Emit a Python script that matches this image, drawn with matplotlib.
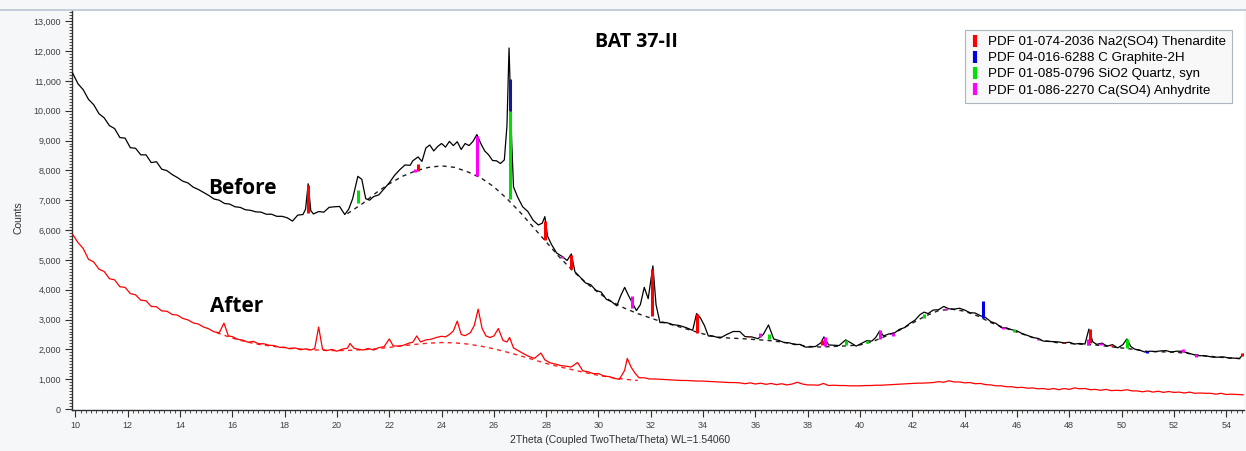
import matplotlib
matplotlib.use("Agg")
import matplotlib.pyplot as plt
from matplotlib.ticker import MultipleLocator, FuncFormatter
from matplotlib.lines import Line2D

# ---------------- data ----------------
before_2theta = [
    9.9, 10.1, 10.3, 10.5, 10.7, 10.9, 11.1, 11.3, 11.5, 11.7,
    11.9, 12.1, 12.3, 12.5, 12.7, 12.9, 13.1, 13.3, 13.5, 13.7,
    13.9, 14.1, 14.3, 14.5, 14.7, 14.9, 15.1, 15.3, 15.5, 15.7,
    15.9, 16.1, 16.3, 16.5, 16.7, 16.9, 17.1, 17.3, 17.5, 17.7,
    17.9, 18.1, 18.3, 18.5, 18.7, 18.8, 18.9, 19.0, 19.1, 19.3,
    19.5, 19.7, 19.9, 20.1, 20.3, 20.45, 20.6, 20.8, 20.95, 21.1,
    21.25, 21.4, 21.6, 21.8, 22.0, 22.2, 22.4, 22.6, 22.8, 22.9,
    23.1, 23.25, 23.4, 23.55, 23.7, 23.85, 24.0, 24.15, 24.3, 24.45,
    24.6, 24.75, 24.9, 25.05, 25.2, 25.35, 25.5, 25.65, 25.8, 25.95,
    26.1, 26.25, 26.4, 26.5, 26.58, 26.68, 26.75, 26.9, 27.1, 27.3,
    27.5, 27.7, 27.85, 27.95, 28.05, 28.2, 28.4, 28.6, 28.8, 28.96,
    29.1, 29.3, 29.5, 29.7, 29.9, 30.1, 30.3, 30.5, 30.7, 30.85,
    31.0, 31.15, 31.3, 31.45, 31.6, 31.75, 31.9, 32.08, 32.2, 32.35,
    32.6, 32.85, 33.1, 33.35, 33.6, 33.75, 33.9, 34.05, 34.2, 34.4,
    34.65, 34.9, 35.15, 35.4, 35.6, 35.85, 36.1, 36.3, 36.5, 36.7,
    36.9, 37.1, 37.3, 37.5, 37.7, 37.9, 38.1, 38.3, 38.5, 38.62,
    38.8, 39.0, 39.2, 39.45, 39.65, 39.85, 40.05, 40.25, 40.45, 40.6,
    40.75, 40.9, 41.1, 41.3, 41.5, 41.7, 41.9, 42.1, 42.3, 42.45,
    42.6, 42.8, 43.0, 43.2, 43.4, 43.6, 43.8, 44.0, 44.2, 44.4,
    44.6, 44.8, 45.0, 45.2, 45.4, 45.6, 45.8, 46.0, 46.2, 46.4,
    46.6, 46.8, 47.0, 47.2, 47.4, 47.6, 47.8, 48.0, 48.2, 48.4,
    48.6, 48.75, 48.9, 49.05, 49.25, 49.45, 49.65, 49.85, 50.05, 50.2,
    50.35, 50.5, 50.7, 50.9, 51.1, 51.3, 51.5, 51.7, 51.9, 52.1,
    52.3, 52.5, 52.7, 52.9, 53.1, 53.3, 53.5, 53.7, 53.9, 54.1,
    54.3, 54.5, 54.65,
]
before_counts = [
    11250, 10900, 10700, 10380, 10200, 9900, 9760, 9500, 9400, 9100,
    9080, 8760, 8740, 8520, 8520, 8260, 8290, 8040, 7990, 7860,
    7760, 7640, 7580, 7440, 7360, 7260, 7160, 7040, 7000, 6890,
    6870, 6780, 6760, 6680, 6660, 6610, 6600, 6530, 6530, 6460,
    6460, 6410, 6300, 6500, 6520, 6700, 7550, 6650, 6540, 6620,
    6600, 6760, 6780, 6790, 6520, 6700, 7050, 7800, 7700, 7050,
    7000, 7120, 7180, 7380, 7580, 7830, 8020, 8180, 8170, 8320,
    8450, 8300, 8750, 8850, 8650, 8800, 8900, 8780, 8970, 8830,
    8960, 8700, 8900, 8830, 8970, 9200, 8900, 8650, 8520, 8330,
    8320, 8230, 8350, 9500, 12100, 9000, 7450, 7120, 6780, 6620,
    6330, 6170, 6230, 6450, 5800, 5520, 5230, 5120, 4980, 5200,
    4600, 4420, 4230, 4170, 3980, 3920, 3680, 3600, 3460, 3800,
    4080, 3800, 3550, 3300, 3500, 4080, 3700, 4800, 3500, 2900,
    2900, 2830, 2800, 2730, 2640, 3200, 3050, 2800, 2450, 2440,
    2380, 2500, 2600, 2600, 2430, 2420, 2360, 2500, 2820, 2350,
    2300, 2230, 2220, 2160, 2170, 2080, 2080, 2100, 2220, 2420,
    2150, 2140, 2130, 2320, 2220, 2110, 2200, 2290, 2280, 2400,
    2620, 2450, 2520, 2540, 2670, 2730, 2870, 2980, 3170, 3250,
    3200, 3320, 3330, 3440, 3360, 3350, 3380, 3320, 3230, 3220,
    3130, 3070, 2930, 2870, 2730, 2720, 2660, 2620, 2530, 2470,
    2400, 2370, 2280, 2270, 2260, 2250, 2220, 2240, 2180, 2200,
    2180, 2680, 2250, 2170, 2210, 2110, 2160, 2050, 2160, 2350,
    2100, 2010, 1970, 1910, 1940, 1930, 1950, 1960, 1910, 1940,
    1940, 1890, 1840, 1790, 1790, 1770, 1740, 1740, 1750, 1710,
    1710, 1690, 1840,
]

after_2theta = [
    9.9, 10.1, 10.3, 10.5, 10.7, 10.9, 11.1, 11.3, 11.5, 11.7,
    11.9, 12.1, 12.3, 12.5, 12.7, 12.9, 13.1, 13.3, 13.5, 13.7,
    13.9, 14.1, 14.3, 14.5, 14.7, 14.9, 15.1, 15.3, 15.5, 15.68,
    15.85, 16.0, 16.2, 16.4, 16.6, 16.8, 17.0, 17.2, 17.4, 17.6,
    17.8, 18.0, 18.2, 18.4, 18.6, 18.8, 19.0, 19.15, 19.3, 19.45,
    19.6, 19.8, 20.0, 20.2, 20.4, 20.5, 20.65, 20.8, 21.0, 21.2,
    21.4, 21.6, 21.8, 22.0, 22.15, 22.35, 22.55, 22.75, 22.9, 23.05,
    23.2, 23.4, 23.6, 23.8, 24.0, 24.15, 24.3, 24.45, 24.6, 24.75,
    24.9, 25.1, 25.25, 25.4, 25.55, 25.7, 25.85, 26.0, 26.17, 26.35,
    26.5, 26.6, 26.75, 26.95, 27.15, 27.35, 27.55, 27.8, 27.95, 28.15,
    28.35, 28.55, 28.75, 28.95, 29.2, 29.4, 29.6, 29.8, 30.0, 30.2,
    30.4, 30.6, 30.8, 31.0, 31.1, 31.25, 31.4, 31.55, 31.75, 31.95,
    32.15, 32.35, 32.55, 32.75, 32.95, 33.15, 33.35, 33.55, 33.75, 33.95,
    34.15, 34.35, 34.55, 34.75, 35.0, 35.2, 35.4, 35.6, 35.8, 36.0,
    36.2, 36.4, 36.6, 36.8, 37.0, 37.2, 37.4, 37.6, 37.8, 38.0,
    38.2, 38.4, 38.6, 38.8, 39.0, 39.2, 39.4, 39.6, 39.8, 40.0,
    40.2, 40.4, 40.6, 40.8, 41.0, 41.2, 41.4, 41.6, 41.8, 42.0,
    42.2, 42.4, 42.6, 42.8, 43.0, 43.2, 43.4, 43.6, 43.8, 44.0,
    44.2, 44.4, 44.6, 44.8, 45.0, 45.2, 45.4, 45.6, 45.8, 46.0,
    46.2, 46.4, 46.6, 46.8, 47.0, 47.2, 47.4, 47.6, 47.8, 48.0,
    48.2, 48.4, 48.6, 48.8, 49.0, 49.2, 49.4, 49.6, 49.8, 50.0,
    50.2, 50.4, 50.6, 50.8, 51.0, 51.2, 51.4, 51.6, 51.8, 52.0,
    52.2, 52.4, 52.6, 52.8, 53.0, 53.2, 53.4, 53.6, 53.8, 54.0,
    54.2, 54.4, 54.65,
]
after_counts = [
    5850, 5580, 5380, 5020, 4930, 4690, 4610, 4370, 4330, 4100,
    4080, 3870, 3830, 3650, 3630, 3440, 3430, 3290, 3280, 3170,
    3150, 3040, 2990, 2890, 2850, 2750, 2690, 2590, 2560, 2880,
    2450, 2430, 2340, 2310, 2240, 2270, 2190, 2190, 2140, 2130,
    2070, 2070, 2020, 2050, 1990, 2020, 1980, 2030, 2750, 2000,
    1960, 2000, 1940, 2010, 2040, 2200, 2040, 2010, 1980, 2030,
    1980, 2060, 2090, 2350, 2120, 2110, 2140, 2210, 2240, 2450,
    2250, 2320, 2340, 2400, 2440, 2420, 2500, 2620, 2950, 2500,
    2460, 2560, 2800, 3350, 2700, 2450, 2400, 2450, 2700, 2300,
    2250, 2400, 2050, 1950, 1850, 1760, 1700, 1880, 1650, 1550,
    1510, 1460, 1440, 1410, 1560, 1280, 1250, 1190, 1190, 1110,
    1090, 1030, 1000, 1300, 1700, 1400, 1200, 1050, 1050, 1010,
    1010, 1000, 990, 980, 970, 960, 960, 950, 940, 940,
    930, 920, 910, 900, 890, 890, 880, 850, 880, 840,
    870, 830, 860, 820, 850, 810, 840, 900, 840, 810,
    810, 800, 860, 790, 800, 790, 790, 780, 780, 780,
    790, 790, 800, 800, 810, 820, 830, 840, 850, 860,
    870, 870, 880, 890, 920, 900, 950, 910, 910, 880,
    890, 850, 860, 820, 810, 780, 780, 750, 750, 720,
    730, 700, 710, 680, 690, 660, 690, 650, 690, 660,
    710, 680, 690, 650, 660, 630, 660, 620, 630, 620,
    650, 610, 610, 580, 610, 570, 600, 560, 590, 560,
    570, 540, 570, 530, 540, 530, 530, 500, 530, 490,
    500, 490, 480,
]

before_bg_2theta = [20.4, 21.0, 21.5, 22.0, 22.5, 23.0, 23.5, 24.0, 24.5, 25.0,
                    25.5, 26.0, 26.5, 27.0, 27.5, 28.0, 28.5, 29.0, 29.5, 30.0,
                    30.5, 31.0, 31.5, 32.0, 32.5, 33.0, 33.5, 34.0, 34.5, 35.0,
                    35.5, 36.0, 36.5, 37.0, 37.5, 38.0, 38.5, 39.0, 39.5, 40.0,
                    40.5, 41.0, 41.5, 42.0, 42.5, 43.0, 43.5, 44.0, 44.5, 45.0,
                    45.5, 46.0, 46.5, 47.0, 47.5, 48.0, 48.5, 49.0, 49.5, 50.0,
                    50.5, 51.0, 51.5, 52.0, 52.5, 53.0, 53.5, 54.0, 54.65]
before_bg_counts = [6550, 6900, 7250, 7550, 7800, 7980, 8100, 8150, 8100, 7950,
                    7750, 7450, 7050, 6600, 6100, 5600, 5100, 4650, 4250, 3900,
                    3600, 3380, 3200, 3050, 2900, 2780, 2650, 2520, 2420, 2380,
                    2360, 2330, 2300, 2250, 2180, 2100, 2080, 2100, 2120, 2150,
                    2270, 2450, 2640, 2880, 3120, 3300, 3350, 3280, 3120, 2900,
                    2730, 2580, 2430, 2300, 2230, 2200, 2170, 2150, 2100, 2050,
                    2000, 1930, 1920, 1910, 1870, 1800, 1760, 1720, 1690]

after_bg_2theta = [15.4, 16.0, 16.5, 17.0, 17.5, 18.0, 18.5, 19.0, 19.5, 20.0,
                   20.5, 21.0, 21.5, 22.0, 22.5, 23.0, 23.5, 24.0, 24.5, 25.0,
                   25.5, 26.0, 26.5, 27.0, 27.5, 28.0, 28.5, 29.0, 29.5, 30.0,
                   30.5, 31.0, 31.5]
after_bg_counts = [2560, 2380, 2260, 2170, 2110, 2060, 2020, 1990, 1970, 1960,
                   1970, 1990, 2020, 2070, 2120, 2170, 2210, 2230, 2220, 2180,
                   2110, 2020, 1910, 1790, 1660, 1530, 1420, 1320, 1220, 1130,
                   1060, 1000, 960]

# reference-pattern sticks: position, top, bottom, phase index
stick_pos = [18.89, 20.8, 23.0, 23.1, 25.35, 26.62, 26.62, 27.95, 28.6, 28.96,
             31.3, 32.05, 33.78, 35.7, 36.17, 36.5, 38.55, 38.65, 39.45, 40.25,
             40.75, 41.25, 42.45, 43.3, 44.72, 45.48, 45.9, 46.8, 47.8, 48.7,
             48.78, 49.2, 49.6, 50.2, 50.97, 52.35, 52.85, 54.62]
stick_top = [7500, 7350, 8050, 8200, 9150, 10000, 11050, 6300, 5130, 5180,
             3800, 4680, 3180, 2450, 2550, 2520, 2300, 2420, 2320, 2280,
             2650, 2560, 3200, 3400, 3620, 2750, 2700, 2350, 2250, 2350,
             2680, 2200, 2150, 2350, 1950, 2000, 1850, 1880]
stick_bottom = [6560, 6920, 7950, 7970, 7800, 7050, 10000, 5680, 5050, 4680,
                3400, 3120, 2560, 2400, 2400, 2340, 2150, 2120, 2150, 2200,
                2350, 2450, 3050, 3330, 3060, 2680, 2600, 2300, 2200, 2150,
                2230, 2150, 2100, 2050, 1880, 1900, 1760, 1780]
stick_phase = [0, 2, 3, 0, 3, 2, 1, 0, 3, 0,
               3, 0, 0, 0, 3, 2, 0, 3, 2, 2,
               3, 3, 2, 3, 1, 3, 2, 3, 0, 3,
               0, 3, 0, 2, 1, 3, 3, 0]

phase_labels = [
    "PDF 01-074-2036 Na2(SO4) Thenardite",
    "PDF 04-016-6288 C Graphite-2H",
    "PDF 01-085-0796 SiO2 Quartz, syn",
    "PDF 01-086-2270 Ca(SO4) Anhydrite",
]
phase_colors = ["#ff0000", "#0000e0", "#00e000", "#ff00ff"]

title_text = "BAT 37-II"
curve_labels = ["Before", "After"]
x_label = "2Theta (Coupled TwoTheta/Theta) WL=1.54060"
y_label = "Counts"

# ---------------- figure ----------------
W, H = 1246, 451
fig = plt.figure(figsize=(W / 100, H / 100), dpi=100, facecolor="#f5f7f9")
ax_l, ax_r, ax_t, ax_b = 72, 1244, 11, 410
ax = fig.add_axes([ax_l / W, 1 - ax_b / H, (ax_r - ax_l) / W, (ax_b - ax_t) / H])
ax.set_facecolor("white")

ax.plot(before_bg_2theta, before_bg_counts, color="#202020", lw=1.0,
        linestyle=(0, (3, 3)), zorder=2)
ax.plot(after_bg_2theta, after_bg_counts, color="#ff2020", lw=1.0,
        linestyle=(0, (3, 3)), zorder=2)
ax.plot(before_2theta, before_counts, color="black", lw=0.9, zorder=3)
ax.plot(after_2theta, after_counts, color="#ff0000", lw=0.9, zorder=3)

for p, t, b, ph in zip(stick_pos, stick_top, stick_bottom, stick_phase):
    col = phase_colors[ph]
    if ph == 1 and t > 10000:
        col = "#101a90"
    ax.plot([p, p], [b, t], color=col, lw=2.2, solid_capstyle="butt", zorder=4)

ax.set_xlim(9.87, 54.68)
ax.set_ylim(-30, 13340)

for s in ["top", "right"]:
    ax.spines[s].set_visible(False)
for s in ["left", "bottom"]:
    ax.spines[s].set_color("#303030")
    ax.spines[s].set_linewidth(1.0)

ax.xaxis.set_major_locator(MultipleLocator(2))
ax.xaxis.set_minor_locator(MultipleLocator(0.2))
ax.yaxis.set_major_locator(MultipleLocator(1000))
ax.yaxis.set_minor_locator(MultipleLocator(100))
ax.yaxis.set_major_formatter(FuncFormatter(lambda v, p: f"{int(v):,}"))
ax.tick_params(axis="both", which="major", length=5, width=0.8, color="#303030",
               labelsize=6.5, labelcolor="#404040", pad=3)
ax.tick_params(axis="both", which="minor", length=2.5, width=0.6, color="#303030")
for lab in ax.get_xticklabels() + ax.get_yticklabels():
    lab.set_family("Liberation Sans")

ax.text((636 - ax_l) / (ax_r - ax_l), (ax_b - 42) / (ax_b - ax_t), title_text,
        transform=ax.transAxes, ha="center", va="center",
        fontsize=14, fontweight="bold", family="Open Sans")
ax.text(16.39, 7380, curve_labels[0], ha="center", va="center",
        fontsize=15, fontweight="bold", family="Open Sans")
ax.text(16.16, 3450, curve_labels[1], ha="center", va="center",
        fontsize=15, fontweight="bold", family="Open Sans")

handles = [Line2D([], [], color=c, marker="|", linestyle="none",
                  markersize=9, markeredgewidth=3) for c in phase_colors]
leg = ax.legend(handles, phase_labels, loc="upper right",
                bbox_to_anchor=((1232 - ax_l) / (ax_r - ax_l), (ax_b - 30) / (ax_b - ax_t)),
                borderaxespad=0, frameon=True, fancybox=False,
                prop={"family": "Liberation Sans", "size": 9.6},
                handlelength=0.6, handletextpad=0.7, labelspacing=0.28,
                borderpad=0.45)
leg.get_frame().set_edgecolor("#9aa4b0")
leg.get_frame().set_facecolor("#f7f7f7")
leg.get_frame().set_linewidth(0.8)

fig.text(18 / W, 1 - 218 / H, y_label, rotation=90, ha="center", va="center",
         fontsize=7.5, color="#303030", family="Liberation Sans")
fig.text(620 / W, 1 - 440 / H, x_label, ha="center", va="center",
         fontsize=7.5, color="#303030", family="Liberation Sans")

fig.add_artist(Line2D([0, 1], [1 - 10 / H, 1 - 10 / H], transform=fig.transFigure,
                      color="#b8c6d4", lw=1.2))

fig.savefig("out.png", dpi=100, facecolor=fig.get_facecolor())
